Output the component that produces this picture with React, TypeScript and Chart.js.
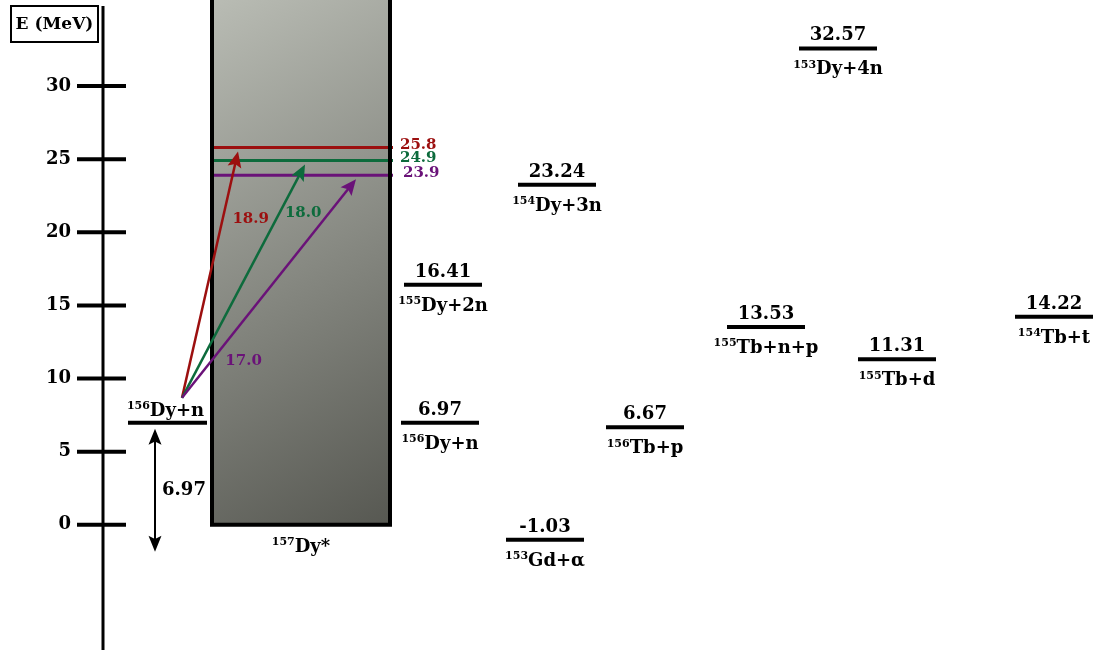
import { useEffect, useRef } from 'react';
import { Chart, registerables } from 'chart.js';

Chart.register(...registerables);

const FONT = '"DejaVu Serif", "Liberation Serif", serif';

// Energy axis (MeV)
const energyTicks = [0, 5, 10, 15, 20, 25, 30];
const axisMin = -8.7;
const axisMax = 35.47;
const axisTitle = 'E (MeV)';

// Entrance channel and compound nucleus
const entranceEnergy = 6.97;
const entranceMass = '156';
const entranceName = 'Dy+n';
const compoundMass = '157';
const compoundName = 'Dy*';

// Populated excitation levels of the compound nucleus and incident neutron energies
const excitationEnergies = [25.8, 24.9, 23.9];
const neutronEnergies = [18.9, 18.0, 17.0];
const excitationColors = ['#9c0f0f', '#0d6b3c', '#6a1278'];

// Decay channel thresholds
const channelEnergies = [6.97, 16.41, 23.24, -1.03, 6.67, 32.57, 13.53, 11.31, 14.22];
const channelMasses = ['156', '155', '154', '153', '156', '153', '155', '155', '154'];
const channelNames = ['Dy+n', 'Dy+2n', 'Dy+3n', 'Gd+α', 'Tb+p', 'Dy+4n', 'Tb+n+p', 'Tb+d', 'Tb+t'];

// Horizontal placement (x scale runs 0..1100)
const channelCenters = [440, 443, 557, 545, 645, 838, 766, 897, 1054];
const LEVEL_HALF = 39;
const BOX_LEFT = 212;
const BOX_RIGHT = 390;
const ENTRANCE_LEFT = 128;
const ENTRANCE_RIGHT = 207;
const ARROW_START_X = 182;
const arrowTipX = [238, 305, 356];
const arrowLabelT = [0.726, 0.79, 0.17];
const arrowLabelDx = [28, 24, 32];
const AXIS_X = 103;

const MAIN = 18;
const SMALL = 15;

function drawTagged(
  ctx: CanvasRenderingContext2D,
  mass: string,
  name: string,
  cx: number,
  baseline: number,
  size: number,
  color = '#000'
) {
  const supSize = Math.round(size * 0.62);
  ctx.font = `bold ${supSize}px ${FONT}`;
  const w1 = ctx.measureText(mass).width;
  ctx.font = `bold ${size}px ${FONT}`;
  const w2 = ctx.measureText(name).width;
  const x0 = cx - (w1 + w2) / 2;
  ctx.fillStyle = color;
  ctx.textAlign = 'left';
  ctx.textBaseline = 'alphabetic';
  ctx.font = `bold ${supSize}px ${FONT}`;
  ctx.fillText(mass, x0, baseline - size * 0.36);
  ctx.font = `bold ${size}px ${FONT}`;
  ctx.fillText(name, x0 + w1, baseline);
}

function arrowHead(
  ctx: CanvasRenderingContext2D,
  x0: number,
  y0: number,
  x1: number,
  y1: number,
  len: number,
  half: number,
  color: string
) {
  const a = Math.atan2(y1 - y0, x1 - x0);
  ctx.save();
  ctx.translate(x1, y1);
  ctx.rotate(a);
  ctx.beginPath();
  ctx.moveTo(0, 0);
  ctx.lineTo(-len, -half);
  ctx.lineTo(-len * 0.8, 0);
  ctx.lineTo(-len, half);
  ctx.closePath();
  ctx.fillStyle = color;
  ctx.fill();
  ctx.restore();
}

const schemePlugin = {
  id: 'levelScheme',
  beforeDatasetsDraw(chart: any) {
    const { ctx, scales } = chart;
    const y = scales.y;
    const yZero = y.getPixelForValue(0);
    ctx.save();
    const g = ctx.createLinearGradient(BOX_LEFT, 0, BOX_RIGHT + 120, yZero);
    g.addColorStop(0, '#b9bcb4');
    g.addColorStop(1, '#4c4d47');
    ctx.fillStyle = g;
    ctx.fillRect(BOX_LEFT, 0, BOX_RIGHT - BOX_LEFT, yZero);
    ctx.restore();
  },
  afterDatasetsDraw(chart: any) {
    const { ctx, scales } = chart;
    const y = scales.y;
    const x = scales.x;
    const top = chart.chartArea.top;
    const yZero = y.getPixelForValue(0);
    ctx.save();

    // Compound nucleus box outline
    ctx.strokeStyle = '#000';
    ctx.lineWidth = 4;
    ctx.lineCap = 'square';
    ctx.beginPath();
    ctx.moveTo(x.getPixelForValue(BOX_LEFT), 0);
    ctx.lineTo(x.getPixelForValue(BOX_LEFT), yZero);
    ctx.lineTo(x.getPixelForValue(BOX_RIGHT), yZero);
    ctx.lineTo(x.getPixelForValue(BOX_RIGHT), 0);
    ctx.stroke();
    ctx.lineCap = 'butt';
    drawTagged(ctx, compoundMass, compoundName, (x.getPixelForValue(BOX_LEFT) + x.getPixelForValue(BOX_RIGHT)) / 2, yZero + 27, MAIN);

    // Excitation level labels
    excitationEnergies.forEach((e, i) => {
      ctx.font = `bold ${SMALL}px ${FONT}`;
      ctx.fillStyle = excitationColors[i];
      ctx.textAlign = 'left';
      ctx.textBaseline = 'middle';
      ctx.fillText(e.toFixed(1), x.getPixelForValue(BOX_RIGHT) + 10 + (i === 2 ? 3 : 0), y.getPixelForValue(e) - 2);
    });

    // Neutron capture arrows
    const yEntr = y.getPixelForValue(entranceEnergy);
    const sx = x.getPixelForValue(ARROW_START_X);
    const sy = yEntr - 25;
    excitationEnergies.forEach((e, i) => {
      const tx = x.getPixelForValue(arrowTipX[i]);
      const ty = y.getPixelForValue(e) + 4;
      const col = excitationColors[i];
      const a = Math.atan2(ty - sy, tx - sx);
      ctx.strokeStyle = col;
      ctx.lineWidth = 2.5;
      ctx.beginPath();
      ctx.moveTo(sx, sy);
      ctx.lineTo(tx - Math.cos(a) * 10, ty - Math.sin(a) * 10);
      ctx.stroke();
      arrowHead(ctx, sx, sy, tx, ty, 16, 7, col);
      const t = arrowLabelT[i];
      ctx.font = `bold ${SMALL}px ${FONT}`;
      ctx.fillStyle = col;
      ctx.textAlign = 'center';
      ctx.textBaseline = 'middle';
      ctx.fillText(
        neutronEnergies[i].toFixed(1),
        sx + t * (tx - sx) + arrowLabelDx[i],
        sy + t * (ty - sy)
      );
    });

    // Entrance channel label and separation energy arrow
    drawTagged(ctx, entranceMass, entranceName, (x.getPixelForValue(ENTRANCE_LEFT) + x.getPixelForValue(ENTRANCE_RIGHT)) / 2 - 2, yEntr - 7, MAIN);
    const dx = x.getPixelForValue(155);
    const dTop = yEntr + 6;
    const dBot = yZero + 27;
    ctx.strokeStyle = '#000';
    ctx.lineWidth = 2;
    ctx.beginPath();
    ctx.moveTo(dx, dTop + 10);
    ctx.lineTo(dx, dBot - 10);
    ctx.stroke();
    arrowHead(ctx, dx, dBot, dx, dTop, 16, 6.5, '#000');
    arrowHead(ctx, dx, dTop, dx, dBot, 16, 6.5, '#000');
    ctx.font = `bold ${MAIN}px ${FONT}`;
    ctx.fillStyle = '#000';
    ctx.textAlign = 'center';
    ctx.textBaseline = 'middle';
    ctx.fillText(entranceEnergy.toFixed(2), x.getPixelForValue(184), (dTop + dBot) / 2);

    // Decay channel labels
    channelEnergies.forEach((e, i) => {
      const cx = x.getPixelForValue(channelCenters[i]);
      const ly = y.getPixelForValue(e);
      ctx.font = `bold ${MAIN}px ${FONT}`;
      ctx.fillStyle = '#000';
      ctx.textAlign = 'center';
      ctx.textBaseline = 'alphabetic';
      ctx.fillText(e.toFixed(2), cx, ly - 8);
      drawTagged(ctx, channelMasses[i], channelNames[i], cx, ly + 26, MAIN);
    });

    // Energy axis
    const ax = x.getPixelForValue(AXIS_X);
    ctx.strokeStyle = '#000';
    ctx.lineWidth = 3;
    ctx.beginPath();
    ctx.moveTo(ax, top);
    ctx.lineTo(ax, chart.height - 2);
    ctx.stroke();
    ctx.lineWidth = 4;
    energyTicks.forEach((v) => {
      const py = y.getPixelForValue(v);
      ctx.beginPath();
      ctx.moveTo(ax - 26, py);
      ctx.lineTo(ax + 23, py);
      ctx.stroke();
      ctx.font = `bold ${MAIN}px ${FONT}`;
      ctx.fillStyle = '#000';
      ctx.textAlign = 'right';
      ctx.textBaseline = 'middle';
      ctx.fillText(String(v), ax - 32, py);
    });

    // Axis title box
    ctx.lineWidth = 2;
    ctx.fillStyle = '#fff';
    ctx.fillRect(11, 6, 87, 36);
    ctx.strokeRect(11, 6, 87, 36);
    ctx.font = `bold 17px ${FONT}`;
    ctx.fillStyle = '#000';
    ctx.textAlign = 'center';
    ctx.textBaseline = 'middle';
    ctx.fillText(axisTitle, 54.5, 25);

    ctx.restore();
  },
};

export default function App() {
  const ref = useRef<HTMLCanvasElement | null>(null);

  useEffect(() => {
    if (!ref.current) return;
    const datasets: any[] = [];
    // Entrance channel level
    datasets.push({
      data: [
        { x: ENTRANCE_LEFT, y: entranceEnergy },
        { x: ENTRANCE_RIGHT, y: entranceEnergy },
      ],
      borderColor: '#000',
      borderWidth: 4,
    });
    // Compound nucleus excitation levels
    excitationEnergies.forEach((e, i) => {
      datasets.push({
        data: [
          { x: BOX_LEFT, y: e },
          { x: BOX_RIGHT + 3, y: e },
        ],
        borderColor: excitationColors[i],
        borderWidth: 3,
      });
    });
    // Decay channel thresholds
    channelEnergies.forEach((e, i) => {
      datasets.push({
        data: [
          { x: channelCenters[i] - LEVEL_HALF, y: e },
          { x: channelCenters[i] + LEVEL_HALF, y: e },
        ],
        borderColor: '#000',
        borderWidth: 4,
      });
    });

    const chart = new Chart(ref.current, {
      type: 'scatter',
      data: {
        datasets: datasets.map((d) => ({
          ...d,
          showLine: true,
          pointRadius: 0,
          pointHoverRadius: 0,
          tension: 0,
          borderCapStyle: 'butt',
          clip: false,
        })),
      },
      options: {
        responsive: false,
        animation: false,
        events: [],
        layout: { padding: { top: 6, left: 0, right: 0, bottom: 0 } },
        plugins: { legend: { display: false }, tooltip: { enabled: false } },
        scales: {
          x: { type: 'linear', min: 0, max: 1100, display: false },
          y: { type: 'linear', min: axisMin, max: axisMax, display: false },
        },
      },
      plugins: [schemePlugin],
    } as any);
    return () => chart.destroy();
  }, []);

  return (
    <div style={{ position: 'fixed', left: 0, top: 0, width: 1100, height: 652, background: '#fff' }}>
      <canvas ref={ref} width={1100} height={652} style={{ display: 'block' }} />
    </div>
  );
}
